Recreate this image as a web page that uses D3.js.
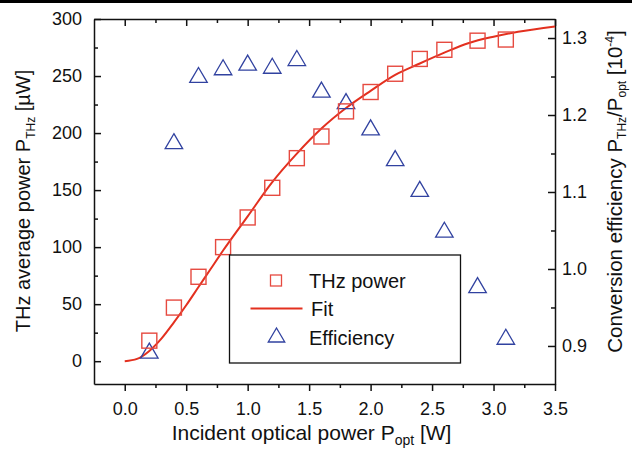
<!DOCTYPE html>
<html>
<head>
<meta charset="utf-8">
<script src="https://cdn.jsdelivr.net/npm/d3@7"></script>
<style>
  body { margin: 0; background: #fff; }
  svg text { font-family: "Liberation Sans", Arial, sans-serif; fill: #111; }
  .axis path, .axis line { stroke: #111; stroke-width: 1.5; }
</style>
</head>
<body>
<div id="chart"></div>
<script>
// measured points (incident optical power in W)
const powerOpt   = [0.2, 0.4, 0.6, 0.8, 1.0, 1.2, 1.4, 1.6, 1.8, 2.0, 2.2, 2.4, 2.6, 2.87, 3.1];
const thzPower   = [18, 47, 74, 100, 126, 152, 178, 197, 219, 236, 252, 265, 273, 281, 282];
const efficiency = [0.894, 1.166, 1.252, 1.262, 1.268, 1.264, 1.274, 1.233, 1.218, 1.184, 1.144, 1.104, 1.051, 0.979, 0.912];

// fit curve
const fitX = [0, 0.1, 0.2, 0.3, 0.4, 0.5, 0.6, 0.7, 0.8, 1.0, 1.2, 1.4, 1.6, 1.8, 2.0, 2.2, 2.4, 2.6, 2.8, 3.0, 3.2, 3.5];
const fitY = [0, 2, 9, 20, 34, 49, 65, 81, 97, 127, 157, 182, 204, 222, 237, 251, 261, 270.5, 279, 284.5, 288.8, 293.5];

// ticks
const xTicks      = [0.0, 0.5, 1.0, 1.5, 2.0, 2.5, 3.0, 3.5];
const xMinor      = [0.25, 0.75, 1.25, 1.75, 2.25, 2.75, 3.25];
const leftTicks   = [0, 50, 100, 150, 200, 250, 300];
const leftMinor   = [25, 75, 125, 175, 225, 275];
const rightTicks  = [0.9, 1.0, 1.1, 1.2, 1.3];
const rightMinor  = [0.95, 1.05, 1.15, 1.25];
const legendLabels = ["THz power", "Fit", "Efficiency"];

const red = "#e64a40", fitRed = "#e3301f", blue = "#3142a0";

const width = 632, height = 450;
const margin = {top: 19, right: 77, bottom: 66, left: 94};

const svg = d3.select("#chart")
  .append("svg")
    .attr("width", width)
    .attr("height", height);

svg.append("rect").attr("width", width).attr("height", height).attr("fill", "#fff");
// thin black strip at the top of the original figure
svg.append("rect").attr("width", width).attr("height", 3).attr("fill", "#000");

const x = d3.scaleLinear().domain([-0.25, 3.5]).range([margin.left, width - margin.right]);
const yL = d3.scaleLinear().domain([-20, 300]).range([height - margin.bottom, margin.top]);
const yR = d3.scaleLinear().domain([0.8506, 1.3247]).range([height - margin.bottom, margin.top]);

const bottom = height - margin.bottom, right = width - margin.right;

// axes: bottom ticks point out, the other three point in
function addAxis(axis, tx, ty, fontSize) {
  const g = svg.append("g")
    .attr("class", "axis")
    .attr("transform", "translate(" + tx + "," + ty + ")")
    .call(axis);
  g.selectAll("text").style("font-size", fontSize + "px").attr("fill", "#111");
  return g;
}

addAxis(d3.axisBottom(x).tickValues(xTicks).tickFormat(d3.format(".1f"))
  .tickSize(7).tickSizeOuter(0).tickPadding(11), 0, bottom, 18);
addAxis(d3.axisBottom(x).tickValues(xMinor).tickFormat("")
  .tickSize(4).tickSizeOuter(0), 0, bottom, 18).select(".domain").remove();

addAxis(d3.axisTop(x).tickValues(xTicks).tickFormat("")
  .tickSize(-7).tickSizeOuter(0), 0, margin.top, 18);
addAxis(d3.axisTop(x).tickValues(xMinor).tickFormat("")
  .tickSize(-4).tickSizeOuter(0), 0, margin.top, 18).select(".domain").remove();

addAxis(d3.axisLeft(yL).tickValues(leftTicks)
  .tickSize(-7).tickSizeOuter(0).tickPadding(12), margin.left, 0, 18);
addAxis(d3.axisLeft(yL).tickValues(leftMinor).tickFormat("")
  .tickSize(-4).tickSizeOuter(0), margin.left, 0, 18).select(".domain").remove();

addAxis(d3.axisRight(yR).tickValues(rightTicks).tickFormat(d3.format(".1f"))
  .tickSize(-7).tickSizeOuter(0).tickPadding(7), right, 0, 18);
addAxis(d3.axisRight(yR).tickValues(rightMinor).tickFormat("")
  .tickSize(-4).tickSizeOuter(0), right, 0, 18).select(".domain").remove();

// fit line
const fitData = fitX.map((d, i) => [d, fitY[i]]);
svg.append("path")
  .datum(fitData)
  .attr("fill", "none")
  .attr("stroke", fitRed)
  .attr("stroke-width", 2)
  .attr("d", d3.line().x(d => x(d[0])).y(d => yL(d[1])).curve(d3.curveMonotoneX));

// open triangle, centred on its bounding box
function triPath(cx, cy, w, h) {
  const p = d3.path();
  p.moveTo(cx, cy - h / 2);
  p.lineTo(cx + w / 2, cy + h / 2);
  p.lineTo(cx - w / 2, cy + h / 2);
  p.closePath();
  return p.toString();
}

// efficiency triangles (right axis)
svg.selectAll(".eff")
  .data(powerOpt.map((d, i) => [d, efficiency[i]]))
  .enter().append("path")
    .attr("class", "eff")
    .attr("d", d => triPath(x(d[0]), yR(d[1]), 17.5, 15))
    .attr("fill", "none")
    .attr("stroke", blue)
    .attr("stroke-width", 1.3);

// THz power squares (left axis)
const sq = 15;
svg.selectAll(".thz")
  .data(powerOpt.map((d, i) => [d, thzPower[i]]))
  .enter().append("rect")
    .attr("class", "thz")
    .attr("x", d => x(d[0]) - sq / 2)
    .attr("y", d => yL(d[1]) - sq / 2)
    .attr("width", sq)
    .attr("height", sq)
    .attr("fill", "none")
    .attr("stroke", red)
    .attr("stroke-width", 1.4);

// legend
const lg = svg.append("g").attr("transform", "translate(229.5,255)");
lg.append("rect")
  .attr("width", 231).attr("height", 108)
  .attr("fill", "#fff").attr("stroke", "#111").attr("stroke-width", 1.3);
lg.append("rect")
  .attr("x", 41).attr("y", 20).attr("width", 11).attr("height", 11)
  .attr("fill", "none").attr("stroke", red).attr("stroke-width", 1.3);
lg.append("line")
  .attr("x1", 21).attr("x2", 73).attr("y1", 53.5).attr("y2", 53.5)
  .attr("stroke", fitRed).attr("stroke-width", 2);
lg.append("path")
  .attr("d", triPath(47, 80, 16.5, 14))
  .attr("fill", "none").attr("stroke", blue).attr("stroke-width", 1.3);
lg.selectAll(".lgtext")
  .data(legendLabels)
  .enter().append("text")
    .attr("class", "lgtext")
    .attr("x", (d, i) => i === 1 ? 81.5 : 79.5)
    .attr("y", (d, i) => 33 + i * 28.3)
    .style("font-size", "20px")
    .text(d => d);

// axis titles
const xTitle = svg.append("text")
  .attr("x", 171.7).attr("y", 440)
  .style("font-size", "21px")
  .text("Incident optical power P");
xTitle.append("tspan").attr("dy", 5).style("font-size", "14px").text("opt");
xTitle.append("tspan").attr("dy", -5).text(" [W]");

const yTitle = svg.append("text")
  .attr("transform", "translate(30,201) rotate(-90)")
  .attr("text-anchor", "middle")
  .style("font-size", "20px")
  .text("THz average power P");
yTitle.append("tspan").attr("dy", 5).style("font-size", "12px").text("THz");
yTitle.append("tspan").attr("dy", -5).text(" [µW]");

const rTitle = svg.append("text")
  .attr("transform", "translate(622,191.5) rotate(-90)")
  .attr("text-anchor", "middle")
  .style("font-size", "20.5px")
  .text("Conversion efficiency P");
rTitle.append("tspan").attr("dy", 4).style("font-size", "12px").text("THz");
rTitle.append("tspan").attr("dy", -4).text("/P");
rTitle.append("tspan").attr("dy", 4).style("font-size", "12px").text("opt");
rTitle.append("tspan").attr("dy", -4).text(" [10");
rTitle.append("tspan").attr("dy", -8).style("font-size", "12px").text("-4");
rTitle.append("tspan").attr("dy", 8).text("]");
</script>
</body>
</html>
